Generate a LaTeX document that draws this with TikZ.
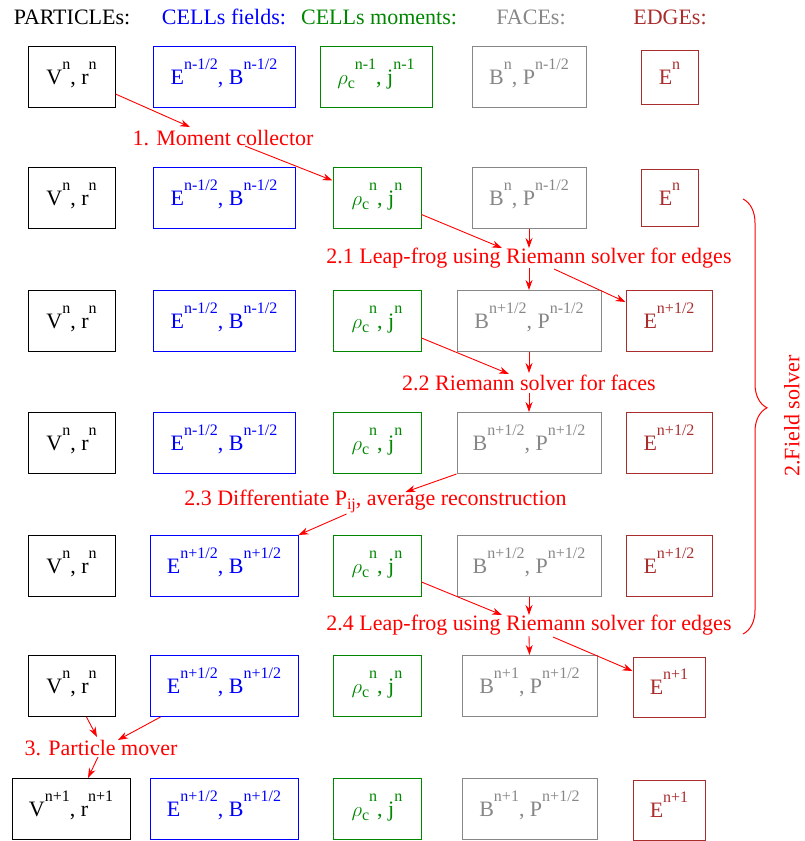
\documentclass[tikz,border=0pt]{standalone}
\usepackage{fontspec}
\setmainfont{Liberation Serif}
\usetikzlibrary{arrows.meta,calc,decorations.pathreplacing}

\definecolor{fieldcol}{RGB}{0,0,255}
\definecolor{momcol}{RGB}{0,135,0}
\definecolor{facecol}{RGB}{135,135,135}
\definecolor{edgecol}{RGB}{170,45,45}
\definecolor{stepcol}{RGB}{255,0,0}

\newcommand{\bigtxt}{\fontsize{22}{26}\selectfont}
% high-set index and low-set index
\newcommand{\hi}[1]{\raisebox{15pt}{\fontsize{16}{16}\selectfont #1}}
\newcommand{\lo}[1]{\raisebox{-4pt}{\fontsize{16}{16}\selectfont #1}}
\newcommand{\rhoj}[1]{$\rho$\lo{c}\hi{#1}, j\hi{#1}}

\tikzset{
  box/.style={draw, line width=1pt, minimum height=61pt, inner sep=0pt,
              text height=15pt, text depth=0pt, font=\bigtxt},
  partbox/.style={box, draw=black, text=black},
  fieldbox/.style={box, draw=fieldcol, text=fieldcol},
  mombox/.style={box, draw=momcol, text=momcol},
  facebox/.style={box, draw=facecol, text=facecol},
  edgebox/.style={box, draw=edgecol, text=edgecol},
  head/.style={inner sep=0pt, font=\bigtxt},
  steplabel/.style={inner sep=0pt, text=stepcol, font=\bigtxt},
  flow/.style={draw=stepcol, line width=0.9pt, -{Stealth[length=10pt,width=7pt]}}
}

\begin{document}
\begin{tikzpicture}[x=1pt,y=-1pt]
\useasboundingbox (0,0) rectangle (804,841);

% column headings
\node[head, text=black]    (hp) at (72,17)  {PARTICLEs:};
\node[head, text=fieldcol] (hf) at (224,17) {CELLs fields:};
\node[head, text=momcol]   (hm) at (379,17) {CELLs moments:};
\node[head, text=facecol]  (hs) at (531,17) {FACEs:};
\node[head, text=edgecol]  (he) at (670,17) {EDGEs:};

% row 1
\node[partbox,  minimum width=87pt]  (p1) at (71.5,76.5) {V\hi{n}, r\hi{n}};
\node[fieldbox, minimum width=142pt] (f1) at (224,76.5)  {E\hi{n-1/2}, B\hi{n-1/2}};
\node[mombox,   minimum width=112pt] (m1) at (376,76.5)  {\rhoj{n-1}};
\node[facebox,  minimum width=114pt] (s1) at (529,76.5)  {B\hi{n}, P\hi{n-1/2}};
\node[edgebox,  minimum width=57pt, minimum height=54pt] (e1) at (669.5,77) {E\hi{n}};

% row 2
\node[partbox,  minimum width=87pt]  (p2) at (71.5,197.5) {V\hi{n}, r\hi{n}};
\node[fieldbox, minimum width=142pt] (f2) at (224,197.5)  {E\hi{n-1/2}, B\hi{n-1/2}};
\node[mombox,   minimum width=88pt]  (m2) at (377,197.5)  {\rhoj{n}};
\node[facebox,  minimum width=114pt] (s2) at (529,197.5)  {B\hi{n}, P\hi{n-1/2}};
\node[edgebox,  minimum width=57pt, minimum height=57pt] (e2) at (669.5,198) {E\hi{n}};

% row 3
\node[partbox,  minimum width=87pt]  (p3) at (71.5,321) {V\hi{n}, r\hi{n}};
\node[fieldbox, minimum width=142pt] (f3) at (224,321)  {E\hi{n-1/2}, B\hi{n-1/2}};
\node[mombox,   minimum width=88pt]  (m3) at (377,321)  {\rhoj{n}};
\node[facebox,  minimum width=144pt] (s3) at (529,321)  {B\hi{n+1/2}, P\hi{n-1/2}};
\node[edgebox,  minimum width=86pt]  (e3) at (669,321)  {E\hi{n+1/2}};

% row 4
\node[partbox,  minimum width=87pt]  (p4) at (71.5,443) {V\hi{n}, r\hi{n}};
\node[fieldbox, minimum width=142pt] (f4) at (224,443)  {E\hi{n-1/2}, B\hi{n-1/2}};
\node[mombox,   minimum width=88pt]  (m4) at (377,443)  {\rhoj{n}};
\node[facebox,  minimum width=144pt] (s4) at (529,443)  {B\hi{n+1/2}, P\hi{n+1/2}};
\node[edgebox,  minimum width=86pt]  (e4) at (669,443)  {E\hi{n+1/2}};

% row 5
\node[partbox,  minimum width=87pt]  (p5) at (71.5,566) {V\hi{n}, r\hi{n}};
\node[fieldbox, minimum width=148pt] (f5) at (224,566)  {E\hi{n+1/2}, B\hi{n+1/2}};
\node[mombox,   minimum width=88pt]  (m5) at (377,566)  {\rhoj{n}};
\node[facebox,  minimum width=144pt] (s5) at (529,566)  {B\hi{n+1/2}, P\hi{n+1/2}};
\node[edgebox,  minimum width=86pt]  (e5) at (669,566)  {E\hi{n+1/2}};

% row 6
\node[partbox,  minimum width=87pt]  (p6) at (71.5,686) {V\hi{n}, r\hi{n}};
\node[fieldbox, minimum width=148pt] (f6) at (224,686)  {E\hi{n+1/2}, B\hi{n+1/2}};
\node[mombox,   minimum width=88pt]  (m6) at (377,686)  {\rhoj{n}};
\node[facebox,  minimum width=135pt] (s6) at (529.5,686) {B\hi{n+1}, P\hi{n+1/2}};
\node[edgebox,  minimum width=72pt, minimum height=60pt] (e6) at (669,687) {E\hi{n+1}};

% row 7
\node[partbox,  minimum width=118pt] (p7) at (71,809)   {V\hi{n+1}, r\hi{n+1}};
\node[fieldbox, minimum width=148pt] (f7) at (224,809)  {E\hi{n+1/2}, B\hi{n+1/2}};
\node[mombox,   minimum width=88pt]  (m7) at (377,809)  {\rhoj{n}};
\node[facebox,  minimum width=135pt] (s7) at (529.5,809) {B\hi{n+1}, P\hi{n+1/2}};
\node[edgebox,  minimum width=72pt, minimum height=60pt] (e7) at (669,810) {E\hi{n+1}};

% step labels
\node[steplabel] (L1)  at (223,138)   {1. Moment collector};
\node[steplabel] (L21) at (529,258)   {2.1 Leap-frog using Riemann solver for edges};
\node[steplabel] (L22) at (529,383)   {2.2 Riemann solver for faces};
\node[steplabel] (L23) at (375.5,501) {2.3 Differentiate P\lo{ij}, average reconstruction};
\node[steplabel] (L24) at (529,625)   {2.4 Leap-frog using Riemann solver for edges};
\node[steplabel] (L3)  at (101,748)   {3. Particle mover};

% 1. moment collection
\draw[flow] ($(p1.east)+(0,17.5)$) -- ($(L1)+(-33,-11)$);
\draw[flow] ($(L1)+(22,8)$) -- ($(m2.west)+(0,-17)$);

% 2.1 leap-frog
\draw[flow] ($(m2.east)+(0,17)$) -- ($(L21)+(-27,-10)$);
\draw[flow] (s2.south) -- ($(L21)+(0,-10)$);
\draw[flow] ($(L21)+(0,10)$) -- (s3.north);
\draw[flow] ($(L21)+(25,11)$) -- ($(e3.west)+(0,-19)$);

% 2.2 face solver
\draw[flow] ($(m3.east)+(0,17)$) -- ($(L22)+(-20,-9)$);
\draw[flow] (s3.south) -- ($(L22)+(0,-10)$);
\draw[flow] ($(L22)+(0,10)$) -- (s4.north);

% 2.3 reconstruction
\draw[flow] (s4.south west) -- ($(L23)+(30,-9)$);
\draw[flow] ($(L23)+(-29,13)$) -- (f5.north east);

% 2.4 leap-frog
\draw[flow] ($(m5.east)+(0,16)$) -- ($(L24)+(-27,-10)$);
\draw[flow] (s5.south) -- ($(L24)+(0,-10)$);
\draw[flow] ($(L24)+(0,11)$) -- (s6.north);
\draw[flow] ($(L24)+(24,12)$) -- ($(e6.west)+(0,-16)$);

% 3. particle push
\draw[flow] ($(p6.south)+(15,0)$) -- ($(L3)+(-4,-11)$);
\draw[flow] ($(f6.south west)+(11,0)$) -- ($(L3)+(17,-8)$);
\draw[flow] ($(L3)+(-3,9)$) -- ($(p7.north)+(17,0)$);

% field solver brace
\coordinate (bt) at (743,199);
\coordinate (bb) at (743,634);
\draw[stepcol, line width=1pt, decorate,
      decoration={brace, amplitude=24pt, aspect=0.48}] (bt) -- (bb);
\node[steplabel, rotate=90] (fs) at (792,416) {2.Field solver};
\end{tikzpicture}
\end{document}
